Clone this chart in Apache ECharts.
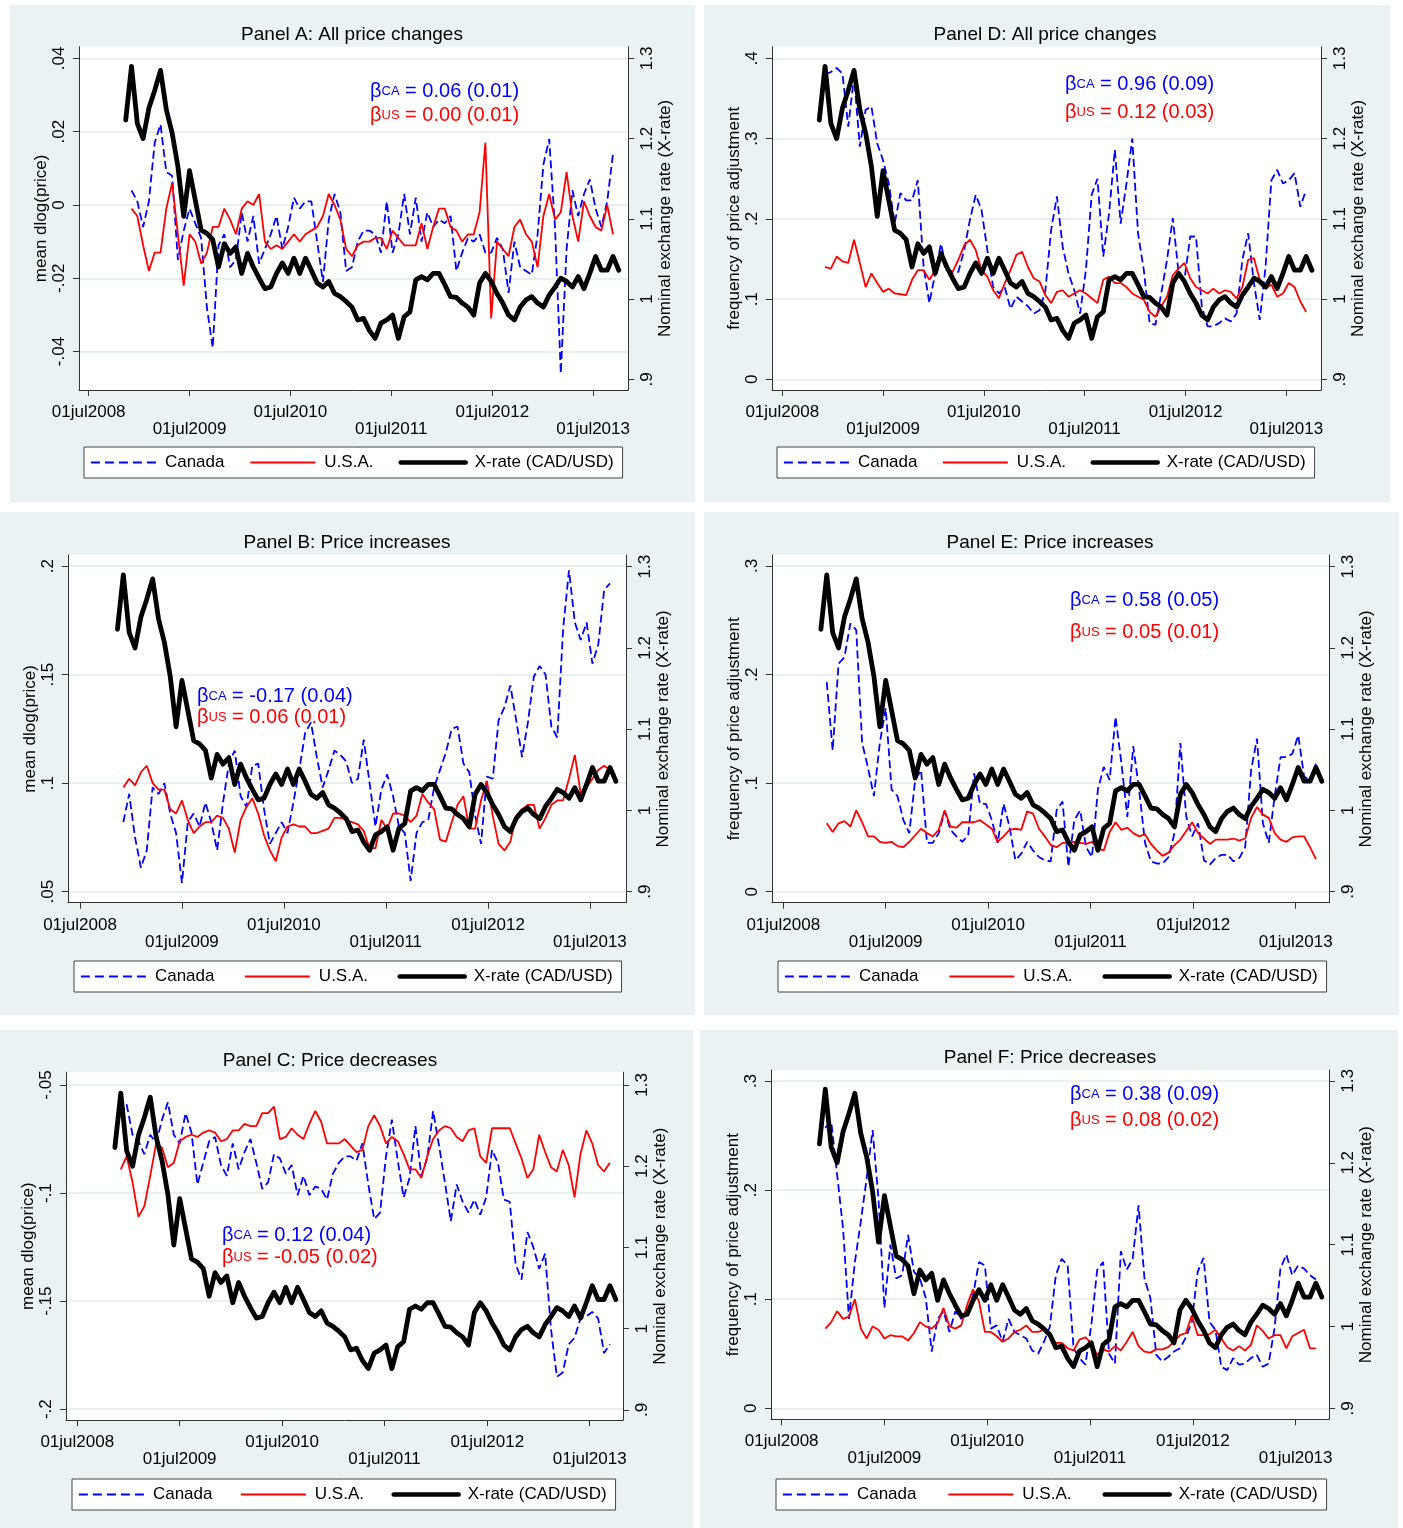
<!DOCTYPE html>
<html><head><meta charset="utf-8">
<script src="https://cdn.jsdelivr.net/npm/echarts@6/dist/echarts.min.js"></script>
<style>html,body{margin:0;padding:0;background:#fff}#c{width:1403px;height:1528px}</style>
</head><body><div id="c"></div>
<script>
// ---------- sampling grid (weekly data shown every 3 weeks) ----------
const DAY = 86400000;
const ORIGIN = Date.UTC(2008, 6, 1);          // 01jul2008
const START = Date.UTC(2008, 10, 12);         // first X-rate observation
const STEP_DAYS = 21;
const toT = ms => (ms - ORIGIN) / (365.25 * DAY);

// ---------- tick labels ----------
const xTickDates = [2008, 2009, 2010, 2011, 2012, 2013];
const xTickLabels = ['01jul2008','01jul2009','01jul2010','01jul2011','01jul2012','01jul2013'];
const rightTicks = [0.9, 1.0, 1.1, 1.2, 1.3];
const rightLabels = ['.9','1','1.1','1.2','1.3'];

// ---------- X-rate (CAD/USD) ----------
const xrate = [1.223,1.29,1.219,1.20,1.238,1.26,1.285,1.236,1.207,1.165,
 1.103,1.16,1.123,1.086,1.082,1.074,1.040,1.069,1.057,1.065,
 1.032,1.057,1.040,1.026,1.013,1.015,1.032,1.045,1.032,1.051,
 1.032,1.051,1.036,1.020,1.015,1.022,1.007,1.003,0.997,0.990,
 0.974,0.976,0.961,0.951,0.970,0.974,0.980,0.951,0.978,0.984,
 1.024,1.028,1.024,1.032,1.032,1.018,1.003,1.002,0.995,0.990,
 0.980,1.020,1.032,1.022,1.007,0.995,0.980,0.974,0.990,0.999,
 1.003,0.995,0.990,1.005,1.015,1.026,1.022,1.015,1.028,1.013,
 1.032,1.053,1.036,1.036,1.053,1.036];

// ---------- Panel A: all price changes, mean dlog(price) ----------
const caA = [null,
 .004,.001,-.006,.001,.017,.022,.009,.008,-.015,-.007,
 -.001,-.005,-.009,-.028,-.039,-.011,-.008,-.017,-.015,-.002,
 -.010,-.003,-.016,-.012,-.008,-.003,-.012,-.006,.002,-.001,
 .001,.001,-.010,-.021,-.004,.003,-.002,-.018,-.017,-.010,
 -.007,-.007,-.008,-.013,.001,-.013,-.008,.003,-.008,.002,
 -.010,-.002,-.006,-.004,-.005,-.003,-.018,-.013,-.009,-.010,
 -.008,-.013,-.013,-.009,-.012,-.024,-.010,-.017,-.018,-.019,
 -.008,.011,.018,-.006,-.046,-.012,.004,-.003,.003,.007,
 -.001,-.006,.001,.014, null];
const usA = [null,
 -.001,-.003,-.011,-.018,-.013,-.013,-.001,.006,-.008,-.022,
 -.008,-.010,-.016,-.013,-.006,-.006,-.001,-.004,-.008,-.001,
 .001,.000,.003,-.010,-.012,-.011,-.012,-.010,-.008,-.010,
 -.008,-.007,-.006,-.003,.003,.000,-.004,-.012,-.014,-.011,
 -.010,-.010,-.009,-.009,-.012,-.007,-.009,-.011,-.011,-.011,
 -.005,-.012,-.006,-.001,-.001,-.006,-.007,-.010,-.008,-.008,
 -.002,.017,-.031,-.010,-.012,-.014,-.006,-.004,-.008,-.010,
 -.017,-.003,.003,-.004,-.002,.009,-.003,-.010,.001,-.003,
 -.006,-.007,.000,-.008, null];

// ---------- Panel D: all price changes, frequency ----------
const caD = [null,
 .380,.383,.388,.381,.315,.377,.290,.336,.340,.294,
 .273,.244,.194,.232,.223,.223,.248,.140,.095,.132,
 .169,.136,.132,.134,.161,.199,.230,.211,.161,.115,
 .107,.115,.088,.103,.097,.091,.082,.086,.110,.186,
 .228,.165,.132,.111,.082,.136,.230,.250,.153,.207,
 .286,.194,.244,.300,.182,.136,.070,.068,.107,.149,
 .201,.132,.124,.178,.178,.091,.066,.066,.070,.076,
 .072,.082,.149,.182,.120,.074,.140,.248,.261,.244,
 .248,.257,.215,.236, null];
const usD = [null,
 .140,.138,.153,.147,.145,.174,.145,.115,.132,.120,
 .109,.113,.107,.106,.105,.124,.136,.136,.124,.136,
 .159,.138,.134,.149,.167,.174,.161,.136,.128,.111,
 .101,.120,.136,.155,.159,.140,.126,.122,.105,.095,
 .109,.111,.103,.107,.111,.107,.101,.095,.124,.128,
 .120,.120,.115,.107,.103,.099,.084,.078,.091,.103,
 .130,.138,.145,.126,.115,.111,.107,.113,.107,.111,
 .109,.101,.115,.149,.151,.124,.113,.118,.103,.107,
 .120,.115,.097,.084, null];

// ---------- Panel B: price increases, mean dlog(price) ----------
const caB = [null,
 .082,.095,.075,.061,.069,.098,.095,.100,.086,.077,
 .054,.082,.086,.080,.091,.082,.069,.091,.109,.115,
 .094,.089,.108,.109,.088,.072,.077,.082,.077,.091,
 .106,.123,.128,.112,.098,.106,.115,.113,.110,.100,
 .102,.120,.100,.080,.097,.104,.094,.080,.077,.055,
 .077,.082,.083,.098,.106,.114,.125,.126,.109,.105,
 .085,.072,.103,.102,.129,.135,.145,.129,.112,.128,
 .149,.154,.150,.126,.121,.171,.198,.174,.166,.174,
 .155,.164,.189,.192, null];
const usB = [null,
 .098,.102,.099,.105,.108,.100,.097,.097,.088,.086,
 .092,.083,.077,.080,.082,.082,.085,.084,.079,.068,
 .083,.089,.093,.086,.076,.069,.064,.075,.080,.081,
 .080,.080,.077,.077,.078,.079,.084,.084,.083,.082,
 .081,.078,.070,.070,.083,.079,.086,.086,.085,.082,
 .085,.095,.091,.088,.074,.073,.082,.090,.094,.079,
 .079,.092,.101,.085,.072,.069,.073,.085,.088,.090,
 .090,.079,.084,.090,.092,.092,.102,.113,.095,.098,
 .102,.106,.108,.106, null];

// ---------- Panel E: price increases, frequency ----------
const caE = [null,
 .193,.130,.210,.216,.247,.241,.137,.114,.088,.137,
 .169,.094,.088,.066,.054,.103,.112,.045,.045,.054,
 .074,.057,.051,.046,.052,.109,.081,.081,.066,.045,
 .081,.060,.029,.035,.046,.038,.032,.029,.028,.075,
 .083,.023,.066,.075,.041,.032,.094,.115,.103,.161,
 .118,.069,.134,.094,.045,.028,.026,.026,.032,.054,
 .137,.069,.051,.063,.029,.025,.031,.034,.034,.028,
 .031,.041,.112,.141,.063,.045,.088,.124,.124,.127,
 .144,.106,.103,.118, null];
const usE = [null,
 .063,.055,.063,.065,.060,.075,.064,.051,.051,.046,
 .045,.046,.042,.041,.046,.052,.058,.054,.051,.057,
 .075,.060,.059,.064,.064,.064,.066,.062,.058,.046,
 .051,.057,.058,.057,.074,.072,.058,.051,.043,.041,
 .045,.045,.046,.045,.044,.046,.040,.038,.055,.064,
 .057,.059,.054,.051,.053,.044,.038,.033,.036,.043,
 .048,.056,.064,.054,.049,.044,.048,.048,.048,.049,
 .047,.049,.068,.078,.071,.068,.054,.048,.046,.050,
 .051,.051,.041,.030, null];

// ---------- Panel C: price decreases, mean dlog(price) ----------
const caC = [null,
 -.064,-.059,-.073,-.076,-.082,-.073,-.077,-.066,-.058,-.073,
 -.077,-.063,-.072,-.096,-.086,-.076,-.074,-.087,-.092,-.077,
 -.089,-.081,-.075,-.086,-.098,-.095,-.082,-.084,-.091,-.087,
 -.101,-.092,-.101,-.097,-.098,-.103,-.091,-.086,-.083,-.083,
 -.085,-.077,-.096,-.112,-.109,-.083,-.066,-.085,-.102,-.093,
 -.069,-.092,-.084,-.062,-.078,-.095,-.113,-.096,-.104,-.109,
 -.103,-.110,-.102,-.080,-.086,-.103,-.104,-.133,-.140,-.118,
 -.125,-.135,-.128,-.163,-.185,-.183,-.170,-.167,-.158,-.157,
 -.155,-.158,-.174,-.170, null];
const usC = [null,
 -.089,-.083,-.095,-.111,-.106,-.092,-.077,-.079,-.088,-.086,
 -.076,-.074,-.073,-.074,-.072,-.071,-.072,-.076,-.075,-.071,
 -.071,-.068,-.069,-.069,-.063,-.063,-.060,-.075,-.074,-.070,
 -.073,-.075,-.068,-.062,-.067,-.077,-.077,-.077,-.075,-.078,
 -.081,-.080,-.069,-.064,-.069,-.077,-.074,-.076,-.082,-.089,
 -.089,-.093,-.083,-.075,-.071,-.069,-.070,-.074,-.076,-.071,
 -.070,-.083,-.086,-.070,-.070,-.070,-.070,-.077,-.084,-.093,
 -.089,-.073,-.081,-.088,-.090,-.080,-.087,-.102,-.082,-.071,
 -.077,-.087,-.090,-.086, null];

// ---------- Panel F: price decreases, frequency ----------
const caF = [null,
 .257,.263,.214,.165,.082,.134,.171,.211,.255,.192,
 .092,.150,.119,.122,.159,.125,.119,.101,.052,.082,
 .089,.070,.089,.082,.087,.104,.134,.131,.073,.076,
 .061,.082,.070,.067,.064,.053,.050,.061,.075,.122,
 .137,.131,.055,.046,.040,.076,.127,.134,.050,.041,
 .144,.127,.137,.186,.119,.101,.049,.043,.047,.052,
 .055,.065,.079,.125,.138,.079,.072,.038,.035,.046,
 .040,.041,.046,.049,.038,.041,.073,.128,.141,.122,
 .131,.128,.122,.118, null];
const usF = [null,
 .073,.079,.089,.082,.084,.100,.073,.064,.075,.072,
 .064,.067,.066,.066,.062,.069,.079,.075,.073,.078,
 .092,.075,.073,.076,.095,.109,.098,.070,.070,.066,
 .061,.064,.070,.072,.076,.070,.070,.072,.066,.060,
 .060,.055,.053,.063,.065,.060,.049,.054,.052,.057,
 .053,.061,.070,.057,.052,.051,.054,.054,.056,.061,
 .067,.069,.085,.067,.067,.068,.072,.064,.056,.053,
 .057,.053,.058,.076,.071,.064,.067,.067,.055,.066,
 .069,.072,.055,.055, null];

// ---------- panel definitions (content) ----------
const panels = [
 {title:'Panel A: All price changes', ca:caA, us:usA, yName:'mean dlog(price)',
  ticks:[-0.04,-0.02,0,0.02,0.04], labels:['-.04','-.02','0','.02','.04'], yRange:[-0.0505,0.0432],
  betaCA:'0.06 (0.01)', betaUS:'0.00 (0.01)'},
 {title:'Panel D: All price changes', ca:caD, us:usD, yName:'frequency of price adjustment',
  ticks:[0,0.1,0.2,0.3,0.4], labels:['0','.1','.2','.3','.4'], yRange:[-0.0133,0.4145],
  betaCA:'0.96 (0.09)', betaUS:'0.12 (0.03)'},
 {title:'Panel B: Price increases', ca:caB, us:usB, yName:'mean dlog(price)',
  ticks:[0.05,0.1,0.15,0.2], labels:['.05','.1','.15','.2'], yRange:[0.0449,0.2051],
  betaCA:'-0.17 (0.04)', betaUS:'0.06 (0.01)'},
 {title:'Panel E: Price increases', ca:caE, us:usE, yName:'frequency of price adjustment',
  ticks:[0,0.1,0.2,0.3], labels:['0','.1','.2','.3'], yRange:[-0.0101,0.3101],
  betaCA:'0.58 (0.05)', betaUS:'0.05 (0.01)'},
 {title:'Panel C: Price decreases', ca:caC, us:usC, yName:'mean dlog(price)',
  ticks:[-0.2,-0.15,-0.1,-0.05], labels:['-.2','-.15','-.1','-.05'], yRange:[-0.2050,-0.0441],
  betaCA:'0.12 (0.04)', betaUS:'-0.05 (0.02)'},
 {title:'Panel F: Price decreases', ca:caF, us:usF, yName:'frequency of price adjustment',
  ticks:[0,0.1,0.2,0.3], labels:['0','.1','.2','.3'], yRange:[-0.0101,0.3101],
  betaCA:'0.38 (0.09)', betaUS:'0.08 (0.02)'}
];

// ---------- layout (positions only) ----------
const layout = [
 {bg:[10,5,685,497],  grid:[79,46.7,628,390],   xr:[-0.096,5.345], rr:[0.8867,1.3145], title:[352,35],  beta:[370,91,115],   legend:[84,447,25]},
 {bg:[704,5,686,497], grid:[772,46.7,1321,390], xr:[-0.102,5.344], rr:[0.8867,1.3145], title:[1045,35], beta:[1065,84,112],  legend:[777,447,24.5]},
 {bg:[0,512,695,503], grid:[68,555,626,902.7],  xr:[-0.118,5.353], rr:[0.8865,1.3144], title:[347,543], beta:[197,696,717],  legend:[74,961,29.5]},
 {bg:[704,512,695,503], grid:[772,555,1329,902.7], xr:[-0.110,5.324], rr:[0.8865,1.3144], title:[1050,543], beta:[1070,600,632], legend:[778,961,30]},
 {bg:[0,1030,693,498], grid:[66,1072.3,623,1420], xr:[-0.110,5.324], rr:[0.8877,1.3156], title:[330,1061], beta:[222,1235,1257], legend:[72,1479,27.5]},
 {bg:[700,1030,698,498], grid:[771,1070,1329,1419.3], xr:[-0.104,5.324], rr:[0.8866,1.3134], title:[1050,1058], beta:[1070,1094,1120], legend:[776,1479,31]}
];

const FONT = '"Liberation Sans", Arial, Helvetica, sans-serif';
const BLUE = '#0000FF', RED = '#FF0000', AXIS = '#333';
const xs = xrate.map((_, k) => toT(START + k * STEP_DAYS * DAY));
const xTicks = xTickDates.map(y => toT(Date.UTC(y, 6, 1)));
const toPairs = arr => arr.map((v, k) => v == null ? null : [xs[k], v]).filter(Boolean);
const lookup = (ticks, labels) => v => { const i = ticks.findIndex(t => Math.abs(t - v) < 1e-9); return i >= 0 ? labels[i] : ''; };

const grids = [], xAxes = [], yAxes = [], series = [], legends = [], graphics = [];
panels.forEach((p, i) => {
  const L = layout[i];
  const [gl, gt, gr, gb] = L.grid;
  graphics.push({type:'rect', silent:true, z:-10, shape:{x:L.bg[0], y:L.bg[1], width:L.bg[2], height:L.bg[3]}, style:{fill:'#EAF2F3'}});
  graphics.push({type:'text', silent:true, z:10, x:L.title[0], y:L.title[1],
    style:{text:p.title, fill:'#000', font:'19px ' + FONT, textAlign:'center', textVerticalAlign:'middle', align:'center', verticalAlign:'middle'}});
  const betaRich = c => ({g:{fontSize:20, fontFamily:FONT, fill:c}, s:{fontSize:13, fontFamily:FONT, fill:c}, m:{fontSize:20, fontFamily:FONT, fill:c}});
  graphics.push({type:'text', silent:true, z:10, x:L.beta[0], y:L.beta[1],
    style:{text:'{g|β}{s|CA}{m| = ' + p.betaCA + '}', rich:betaRich(BLUE), textVerticalAlign:'middle', verticalAlign:'middle'}});
  graphics.push({type:'text', silent:true, z:10, x:L.beta[0], y:L.beta[2],
    style:{text:'{g|β}{s|US}{m| = ' + p.betaUS + '}', rich:betaRich(RED), textVerticalAlign:'middle', verticalAlign:'middle'}});

  grids.push({show:true, backgroundColor:'#fff', borderWidth:0, left:gl, top:gt, width:gr - gl, height:gb - gt});
  xAxes.push({gridIndex:i, type:'value', min:L.xr[0], max:L.xr[1],
    axisLine:{onZero:false, lineStyle:{color:AXIS, width:1}},
    axisTick:{show:true, length:6, customValues:xTicks, lineStyle:{color:AXIS}},
    axisLabel:{customValues:xTicks, margin:14, color:'#000', fontSize:17, lineHeight:17, fontFamily:FONT,
      formatter: v => { const j = xTicks.findIndex(t => Math.abs(t - v) < 1e-6); if (j < 0) return ''; return j % 2 ? '\n' + xTickLabels[j] : xTickLabels[j]; }},
    splitLine:{show:false}});
  yAxes.push({gridIndex:i, type:'value', position:'left', min:p.yRange[0], max:p.yRange[1],
    name:p.yName, nameLocation:'middle', nameRotate:90, nameGap:29,
    nameTextStyle:{color:'#000', fontSize:17, fontFamily:FONT},
    axisLine:{show:true, onZero:false, lineStyle:{color:AXIS, width:1}},
    axisTick:{show:true, length:6, customValues:p.ticks, lineStyle:{color:AXIS}},
    axisLabel:{customValues:p.ticks, rotate:90, margin:11, color:'#000', fontSize:17, fontFamily:FONT, formatter:lookup(p.ticks, p.labels)},
    splitLine:{show:true, lineStyle:{color:'#E2EBEE', width:1.5}}});
  yAxes.push({gridIndex:i, type:'value', position:'right', min:L.rr[0], max:L.rr[1],
    name:'Nominal exchange rate (X-rate)', nameLocation:'middle', nameRotate:90, nameGap:29,
    nameTextStyle:{color:'#000', fontSize:17, fontFamily:FONT},
    axisLine:{show:true, onZero:false, lineStyle:{color:AXIS, width:1}},
    axisTick:{show:true, length:6, customValues:rightTicks, lineStyle:{color:AXIS}},
    axisLabel:{customValues:rightTicks, rotate:90, margin:11, color:'#000', fontSize:17, fontFamily:FONT, formatter:lookup(rightTicks, rightLabels)},
    splitLine:{show:false}});
  series.push({name:'Canada', type:'line', xAxisIndex:i, yAxisIndex:2*i, data:toPairs(p.ca), symbol:'none', showSymbol:false,
    lineStyle:{color:BLUE, width:1.8, type:[8,4]}, itemStyle:{color:BLUE}, z:2});
  series.push({name:'U.S.A.', type:'line', xAxisIndex:i, yAxisIndex:2*i, data:toPairs(p.us), symbol:'none', showSymbol:false,
    lineStyle:{color:RED, width:1.8}, itemStyle:{color:RED}, z:3});
  series.push({name:'X-rate (CAD/USD)', type:'line', xAxisIndex:i, yAxisIndex:2*i+1, data:toPairs(xrate), symbol:'none', showSymbol:false,
    lineStyle:{color:'#000', width:4.8, join:'round', cap:'round'}, itemStyle:{color:'#000'}, z:4});
  legends.push({left:L.legend[0], top:L.legend[1], orient:'horizontal', padding:[7,9,7,6], itemGap:L.legend[2],
    itemWidth:65, itemHeight:14, backgroundColor:'#fff', borderColor:'#444', borderWidth:1, borderRadius:0,
    selectedMode:false,
    itemStyle:{opacity:0, color:'rgba(0,0,0,0)', borderColor:'rgba(0,0,0,0)', borderWidth:0},
    textStyle:{color:'#000', fontSize:17, fontFamily:FONT, padding:[0,0,0,4]},
    data:[
      {name:'Canada', lineStyle:{color:BLUE, width:1.8, type:[9,5]}},
      {name:'U.S.A.', lineStyle:{color:RED, width:1.8}},
      {name:'X-rate (CAD/USD)', lineStyle:{color:'#000', width:4.5}}
    ]});
});

const chart = echarts.init(document.getElementById('c'), null, {renderer:'canvas'});
chart.setOption({
  animation:false, backgroundColor:'#fff',
  grid:grids, xAxis:xAxes, yAxis:yAxes, series:series, legend:legends, graphic:graphics
});
</script>
</body></html>
